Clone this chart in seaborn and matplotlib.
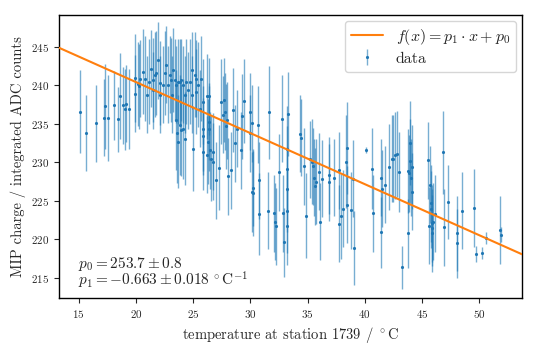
import numpy as np
import pandas as pd
import matplotlib
matplotlib.use("Agg")
import matplotlib.pyplot as plt
import seaborn as sns

# fit result
p0 = 253.7
p1 = -0.663

# measured points: temperature, MIP charge, uncertainty
temperature = [
    15.14, 15.67, 16.48, 17.27, 17.21, 17.56, 18.06, 18.44, 18.58, 18.87, 19.02, 19.17, 19.40, 19.90, 19.90, 20.19,
    20.63, 20.83, 21.01, 21.12, 21.94, 22.09, 22.09, 22.38, 22.52, 22.82, 23.05, 23.40, 23.54, 23.69, 23.84, 23.98,
    24.13, 24.27, 24.42, 24.56, 23.54, 23.63, 23.69, 23.84, 23.98, 24.13, 24.27, 25.00, 25.15, 25.29, 25.44, 25.59,
    25.73, 25.88, 25.88, 20.25, 21.50, 21.65, 23.11, 24.86,
    21.36, 21.79, 22.67, 23.25, 24.86, 24.71, 20.34, 21.50, 22.96, 25.29,
    25.88, 25.88, 26.17, 26.23, 26.32, 26.41, 26.41, 26.46, 26.52, 26.70, 26.76, 26.41, 26.99, 27.28, 27.40, 27.63,
    27.69, 27.78, 27.86, 27.92, 28.07, 28.27, 28.50, 28.65, 28.80, 29.15, 29.23, 29.44, 29.96, 29.96, 30.11, 30.11,
    30.20, 30.25, 30.69, 30.78, 30.78, 31.57, 31.65,
    32.09, 32.20, 32.26, 32.50, 32.73, 32.87, 32.96, 33.19, 33.19, 33.19, 33.19, 33.19, 33.31, 34.33, 34.42, 34.71,
    34.91, 35.21, 35.41, 35.50, 35.59, 35.64, 35.70, 35.99, 36.05, 36.28, 36.87, 36.87, 37.33,
    37.78, 37.78, 37.89, 38.07, 38.36, 38.42, 38.48, 38.77, 39.00, 39.09, 40.11, 40.60, 40.69, 41.39, 41.42, 41.48,
    41.77, 42.15, 42.35, 42.50, 42.65, 42.79,
    43.00, 43.23, 43.76, 43.76, 43.87, 43.96, 43.96, 44.05, 44.11, 44.11, 45.57, 45.62, 45.71, 45.80, 45.80, 45.86,
    45.92, 45.92, 46.00, 46.15, 46.82, 46.96, 47.31, 48.04, 48.04,
    48.53, 49.58, 49.73, 50.23, 50.60, 51.83, 51.92,
]
charge = [
    236.6, 233.8, 235.1, 237.3, 235.8, 235.8, 237.4, 235.6, 238.6, 237.4, 236.9, 237.6, 237.0, 241.0, 238.9, 240.2,
    241.8, 240.9, 238.8, 240.5, 243.3, 240.3, 238.8, 240.1, 241.6, 240.1, 240.7, 240.7, 240.1, 240.5, 240.5, 240.7,
    240.1, 238.8, 240.5, 239.4, 235.5, 233.8, 232.7, 234.9, 234.2, 234.4, 233.1, 231.8, 241.4, 240.9, 240.1, 237.0,
    240.9, 234.4, 231.4, 239.9, 239.4, 241.4, 238.8, 238.8,
    242.2, 241.6, 242.7, 242.0, 242.0, 240.5, 240.9, 240.7, 241.4, 239.2,
    237.9, 233.4, 238.6, 231.0, 232.7, 235.3, 234.4, 231.6, 230.5, 230.1, 231.4, 238.6, 227.7, 229.3, 237.9, 236.2,
    238.1, 236.6, 234.7, 235.5, 228.2, 229.0, 236.8, 232.5, 234.4, 231.6, 236.0, 238.0, 236.6, 233.8, 235.1, 226.2,
    226.0, 226.7, 234.9, 227.7, 223.3, 223.7, 236.5,
    223.4, 222.3, 221.7, 228.7, 235.7, 223.4, 219.6, 231.8, 229.2, 226.5, 223.7, 221.7, 236.3, 233.7, 233.2, 229.5,
    223.1, 230.4, 230.1, 229.5, 228.0, 226.9, 227.5, 228.8, 222.3, 227.9, 228.3, 227.4, 228.0,
    229.0, 222.0, 223.0, 224.0, 230.1, 224.5, 231.9, 223.8, 227.9, 218.9, 231.6, 229.2, 223.4, 228.0, 220.9, 226.6,
    227.1, 229.4, 230.5, 230.5, 230.9, 231.1,
    228.8, 216.4, 228.9, 220.8, 228.6, 232.5, 230.2, 228.0, 229.4, 226.2, 230.3, 221.8, 227.1, 224.7, 223.9, 222.1,
    221.5, 220.8, 222.3, 223.3, 231.3, 221.6, 224.8, 220.8, 219.5,
    223.7, 224.1, 218.1, 218.2, 220.2, 221.2, 220.6,
]
charge_err = [
    5.4, 4.9, 5.0, 5.5, 5.0, 5.6, 4.5, 4.2, 5.6, 5.0, 5.3, 5.0, 5.2, 5.7, 5.0, 5.5,
    5.5, 5.5, 5.0, 5.5, 5.0, 5.5, 5.0, 5.0, 5.5, 5.0, 5.5, 5.3, 5.0, 5.5, 5.5, 5.3,
    5.0, 5.0, 5.5, 5.0, 6.5, 6.5, 6.0, 6.5, 6.0, 6.5, 6.0, 5.5, 5.5, 5.0, 5.5, 5.0,
    5.5, 5.5, 5.0, 5.5, 5.0, 5.5, 5.0, 5.0,
    5.0, 5.5, 5.0, 5.5, 5.0, 5.5, 5.0, 5.5, 5.0, 5.5,
    5.5, 5.0, 5.5, 5.0, 5.5, 5.0, 5.5, 5.0, 5.5, 5.0, 5.0, 5.0, 5.0, 5.5, 5.5, 5.0,
    5.5, 5.0, 5.5, 5.0, 5.0, 5.0, 5.5, 5.0, 5.0, 5.0, 5.5, 5.5, 5.0, 5.0, 5.0, 5.2,
    5.5, 5.0, 5.0, 5.0, 5.3, 5.0, 6.0,
    5.0, 5.0, 5.0, 5.0, 5.7, 5.0, 4.5, 5.5, 5.5, 5.5, 5.5, 5.0, 5.5, 5.0, 5.0, 5.0,
    5.5, 5.0, 5.5, 5.0, 5.0, 5.0, 5.5, 5.0, 5.0, 5.0, 5.0, 5.0, 5.0,
    5.0, 5.0, 5.5, 5.0, 6.0, 5.0, 6.0, 5.0, 5.0, 4.8, 0.4, 5.3, 5.0, 5.0, 4.6, 5.0,
    5.0, 5.6, 5.6, 5.6, 5.6, 5.6,
    5.2, 2.8, 5.5, 4.5, 5.0, 5.5, 5.5, 5.0, 5.5, 5.0, 5.0, 5.0, 5.0, 5.0, 5.0, 5.0,
    5.0, 5.0, 5.0, 5.0, 5.4, 5.0, 4.8, 4.9, 4.5,
    5.0, 5.1, 1.0, 0.8, 0.8, 4.4, 1.0,
]

sns.set_style("ticks")
plt.rcParams["font.family"] = ["cmr10", "DejaVu Serif"]
plt.rcParams["mathtext.fontset"] = "cm"
plt.rcParams["axes.formatter.use_mathtext"] = True
plt.rcParams["axes.unicode_minus"] = False

data = pd.DataFrame({"T": temperature, "Q": charge, "dQ": charge_err})

fig = plt.figure(figsize=(5.37, 3.5), dpi=100)
ax = fig.add_axes([0.11, 0.149, 0.862, 0.808])

xlim = (13.28, 53.75)
fit = pd.DataFrame({"T": list(xlim)})
fit["Q"] = p1 * fit["T"] + p0

sns.lineplot(data=fit, x="T", y="Q", color="C1", lw=1.5, ax=ax,
             label=r"$f(x) = p_1 \cdot x + p_0$", zorder=3)
ax.errorbar(data["T"], data["Q"], yerr=data["dQ"], fmt=".", ms=2.5, color="C0",
            ecolor=(0.12, 0.47, 0.71, 0.6), elinewidth=1, label="data", zorder=2)

ax.set_xlim(*xlim)
ax.set_ylim(212.4, 249.15)
for s in ax.spines.values():
    s.set_visible(True)
    s.set_linewidth(1.0)
    s.set_color("black")
ax.tick_params(labelsize=8, length=3.5, width=0.8)
ax.set_xlabel(r"temperature at station 1739 / $^\circ$C", fontsize=10.5)
ax.set_ylabel("MIP charge / integrated ADC counts", fontsize=10.5)

ax.text(0.04, 0.025, "$p_0 = 253.7 \\pm 0.8$\n$p_1 = -0.663 \\pm 0.018\\,^\\circ\\mathrm{C}^{-1}$",
        transform=ax.transAxes, fontsize=11, linespacing=0.8, va="bottom", ha="left")

ax.legend(loc="upper right", fontsize=11.5, frameon=True, handlelength=2.0,
          borderaxespad=0.35, fancybox=True, framealpha=0.8, labelspacing=0.3)

fig.savefig("out.png", dpi=100)
